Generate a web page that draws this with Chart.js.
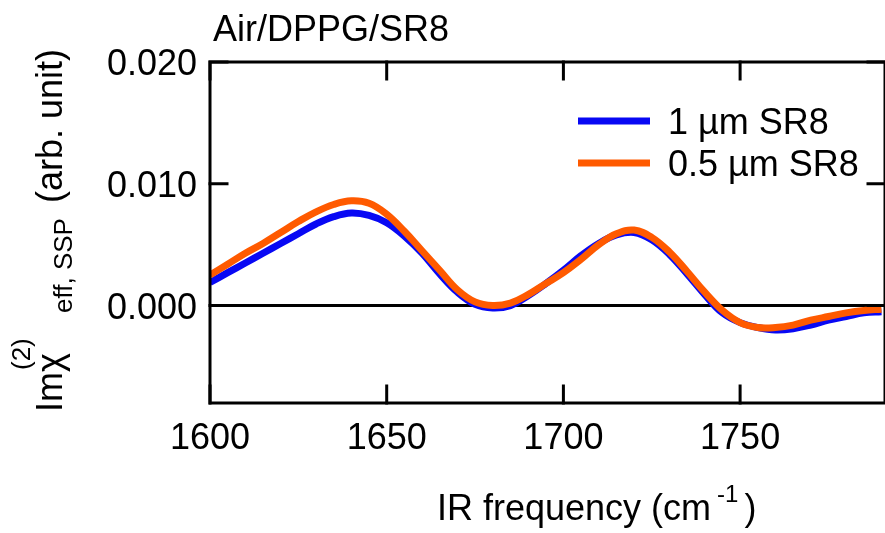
<!DOCTYPE html>
<html>
<head>
<meta charset="utf-8">
<script src="https://cdn.jsdelivr.net/npm/chart.js@4"></script>
<style>
  html, body { margin: 0; padding: 0; background: #fff; }
  canvas { display: block; }
</style>
</head>
<body>
<canvas id="sfgChart" width="885" height="533"></canvas>
<script>
/* ── Dados ── */
const freq = [1600, 1605, 1610, 1615, 1620, 1625, 1630, 1635, 1640, 1645,
              1650, 1655, 1660, 1665, 1670, 1675, 1680, 1685, 1690, 1695,
              1700, 1705, 1710, 1715, 1720, 1725, 1730, 1735, 1740, 1745,
              1750, 1755, 1760, 1765, 1770, 1775, 1780, 1785, 1790];

const imChi1um = [0.0019, 0.0027, 0.0035, 0.0043, 0.0051, 0.0059, 0.0067, 0.0073, 0.0076, 0.0074,
                  0.0068, 0.0057, 0.0043, 0.0026, 0.0011, 0.0001, -0.0002, 0.0000, 0.0008, 0.0018,
                  0.0029, 0.0041, 0.0051, 0.0058, 0.0060, 0.0054, 0.0042, 0.0026, 0.0009, -0.0006,
                  -0.0014, -0.0018, -0.0020, -0.0019, -0.0016, -0.0012, -0.0009, -0.0006, -0.0005];

const imChi05um = [0.0025, 0.0034, 0.0043, 0.0051, 0.0060, 0.0069, 0.0077, 0.0083, 0.0086, 0.0084,
                   0.0075, 0.0061, 0.0045, 0.0029, 0.0013, 0.0003, 0.0000, 0.0002, 0.0009, 0.0018,
                   0.0027, 0.0038, 0.0050, 0.0059, 0.0062, 0.0056, 0.0044, 0.0028, 0.0011, -0.0004,
                   -0.0014, -0.0018, -0.0018, -0.0016, -0.0012, -0.0009, -0.0006, -0.0004, -0.0003];

const seriesLabels = ['1 µm SR8', '0.5 µm SR8'];
const xTicks = [1600, 1650, 1700, 1750];
const yTicks = [0.000, 0.010, 0.020];

/* ── Estilo ── */
const C = { blue: '#0808f4', orange: '#ff5a00', ink: '#000' };
const FONT = "'Liberation Sans', Arial, sans-serif";
const TICK_LEN = 17;

function pts(ys) { return freq.map((x, i) => ({ x, y: ys[i] })); }

function txt(ctx, s, x, y, size, align) {
  ctx.font = size + 'px ' + FONT;
  ctx.textAlign = align || 'left';
  ctx.textBaseline = 'alphabetic';
  ctx.fillStyle = C.ink;
  ctx.fillText(s, x, y);
  return ctx.measureText(s).width;
}

/* linha zero por baixo das curvas */
const zeroLine = {
  id: 'zeroLine',
  beforeDatasetsDraw(chart) {
    const { ctx, chartArea: a, scales: { y } } = chart;
    const py = y.getPixelForValue(0);
    ctx.save();
    ctx.strokeStyle = C.ink;
    ctx.lineWidth = 3;
    ctx.beginPath();
    ctx.moveTo(a.left, py);
    ctx.lineTo(a.right, py);
    ctx.stroke();
    ctx.restore();
  }
};

/* moldura, ticks para dentro, rótulos, títulos e legenda */
const frame = {
  id: 'frame',
  afterDraw(chart) {
    const { ctx, chartArea: a, scales: { x, y } } = chart;
    ctx.save();
    ctx.strokeStyle = C.ink;
    ctx.lineWidth = 3;
    ctx.lineCap = 'square';
    ctx.strokeRect(a.left, a.top, a.right - a.left, a.bottom - a.top);

    ctx.beginPath();
    xTicks.forEach(v => {
      const px = x.getPixelForValue(v);
      ctx.moveTo(px, a.bottom); ctx.lineTo(px, a.bottom - TICK_LEN);
      ctx.moveTo(px, a.top);    ctx.lineTo(px, a.top + TICK_LEN);
    });
    yTicks.forEach(v => {
      const py = y.getPixelForValue(v);
      ctx.moveTo(a.left, py);  ctx.lineTo(a.left + TICK_LEN, py);
      ctx.moveTo(a.right, py); ctx.lineTo(a.right - TICK_LEN, py);
    });
    ctx.stroke();

    // rótulos dos ticks
    xTicks.forEach(v => txt(ctx, String(v), x.getPixelForValue(v), 449, 36, 'center'));
    yTicks.forEach(v => txt(ctx, v.toFixed(3), 197, y.getPixelForValue(v) + 13, 36, 'right'));

    // título
    txt(ctx, 'Air/DPPG/SR8', 213, 41, 36);

    // título eixo x com sobrescrito
    let cx = 437;
    cx += txt(ctx, 'IR frequency (cm', cx, 520, 36);
    cx += txt(ctx, '-1', cx + 6, 502, 24) + 12;
    txt(ctx, ')', cx, 520, 36);

    // título eixo y (rotacionado)
    ctx.save();
    ctx.translate(62, 412);
    ctx.rotate(-Math.PI / 2);
    txt(ctx, 'Imχ', 0, 0, 36);
    txt(ctx, '(2)', 42, -32, 26);
    txt(ctx, 'eff, SSP', 99, 10, 26);
    txt(ctx, '(arb. unit)', 209, 0, 36);
    ctx.restore();

    // legenda
    const legY = [121, 163];
    const legC = [C.blue, C.orange];
    seriesLabels.forEach((lab, i) => {
      ctx.strokeStyle = legC[i];
      ctx.lineWidth = 7;
      ctx.lineCap = 'butt';
      ctx.beginPath();
      ctx.moveTo(578, legY[i]);
      ctx.lineTo(650, legY[i]);
      ctx.stroke();
      txt(ctx, lab, 668, legY[i] + 13, 36);
    });
    ctx.restore();
  }
};

new Chart(document.getElementById('sfgChart'), {
  type: 'line',
  data: {
    datasets: [
      {
        label: seriesLabels[0],
        data: pts(imChi1um),
        borderColor: C.blue,
        borderWidth: 7,
        pointRadius: 0,
        tension: 0.4,
        order: 1,
      },
      {
        label: seriesLabels[1],
        data: pts(imChi05um),
        borderColor: C.orange,
        borderWidth: 7,
        pointRadius: 0,
        tension: 0.4,
        order: 0,
      }
    ]
  },
  options: {
    responsive: false,
    animation: false,
    devicePixelRatio: 1,
    layout: { padding: { left: 0, top: 62, right: -8, bottom: 0 } },
    plugins: { legend: { display: false }, tooltip: { enabled: false } },
    scales: {
      x: {
        type: 'linear',
        min: 1600,
        max: 1791,
        grid: { display: false },
        border: { display: false },
        ticks: { display: false },
        afterFit: s => { s.height = 130; }
      },
      y: {
        min: -0.008,
        max: 0.020,
        grid: { display: false },
        border: { display: false },
        ticks: { display: false },
        afterFit: s => { s.width = 210; }
      }
    }
  },
  plugins: [zeroLine, frame]
});
</script>
</body>
</html>
